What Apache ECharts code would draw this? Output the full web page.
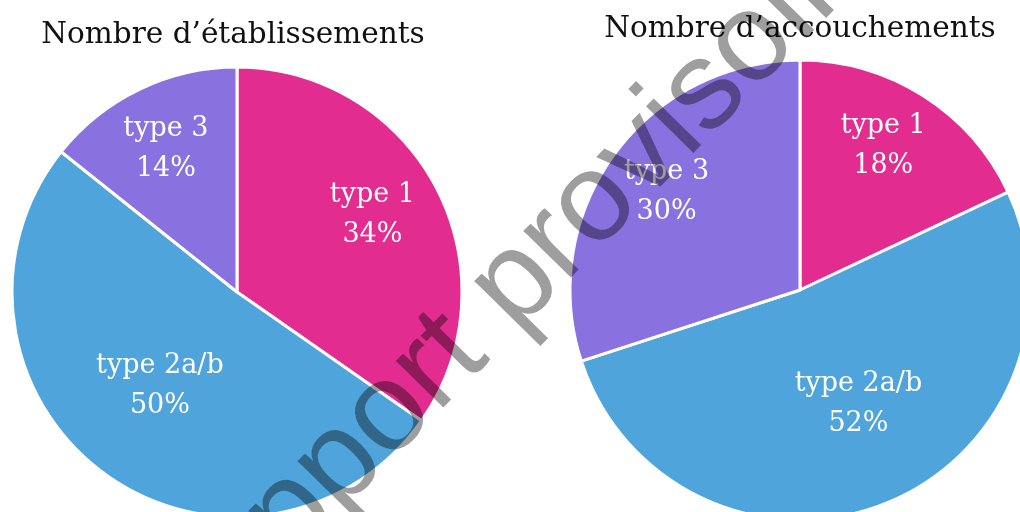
<!DOCTYPE html>
<html>
<head>
<meta charset="utf-8">
<script src="https://cdn.jsdelivr.net/npm/echarts@6/dist/echarts.min.js"></script>
<style>
  html, body { margin: 0; padding: 0; background: #fff; }
  #chart { width: 1020px; height: 512px; }
</style>
</head>
<body>
<div id="chart"></div>
<script>
// data
const categories = ['type 1', 'type 2a/b', 'type 3']
const etablissements = [34, 50, 14]
const accouchements = [18, 52, 30]
const titles = ['Nombre d’établissements', 'Nombre d’accouchements']
const watermark = 'Rapport provisoire'

const colors = ['#E22C8F', '#4FA5DB', '#8972E0']
const serif = '"DejaVu Serif", "Liberation Serif", serif'

// label nudges (px) so text sits where the original put it
const nudges1 = [[33, -24], [-8, 1], [-21, -39]]
const nudges2 = [[20, -44], [15, 4], [-38, -29]]

function pieSeries(values, center, radius, nudges) {
  return {
    type: 'pie',
    center: center,
    radius: radius,
    startAngle: 90,
    clockwise: true,
    avoidLabelOverlap: false,
    animation: false,
    itemStyle: {
      borderColor: '#fff',
      borderWidth: 3
    },
    label: {
      show: true,
      position: 'inside',
      formatter: '{b}\n{c}%',
      color: '#fff',
      fontFamily: serif,
      fontSize: 27,
      lineHeight: 40
    },
    labelLine: { show: false },
    labelLayout: function(params) {
      const n = nudges[params.dataIndex]
      return { dx: n[0], dy: n[1] }
    },
    emphasis: { disabled: true },
    data: categories.map((name, i) => ({
      name: name,
      value: values[i],
      itemStyle: { color: colors[i] }
    }))
  }
}

const chart = echarts.init(document.getElementById('chart'))
const option = {
  backgroundColor: '#fff',
  animation: false,
  title: [
    {
      text: titles[0],
      left: 228,
      top: 15,
      textAlign: 'center',
      textStyle: { fontFamily: serif, fontWeight: 'normal', fontSize: 29.5, color: '#111' }
    },
    {
      text: titles[1],
      left: 795,
      top: 9,
      textAlign: 'center',
      textStyle: { fontFamily: serif, fontWeight: 'normal', fontSize: 29.5, color: '#111' }
    }
  ],
  series: [
    pieSeries(etablissements, [237, 292], 225, nudges1),
    pieSeries(accouchements, [800, 290], 230, nudges2)
  ],
  graphic: [
    {
      type: 'text',
      x: 513,
      y: 287,
      rotation: 45.5 * Math.PI / 180,
      z: 100,
      silent: true,
      style: {
        text: watermark,
        fontFamily: '"Liberation Sans", Arial, sans-serif',
        fontSize: 126,
        fill: 'rgba(0,0,0,0.38)',
        align: 'center',
        verticalAlign: 'middle'
      }
    }
  ]
}
chart.setOption(option)
</script>
</body>
</html>
